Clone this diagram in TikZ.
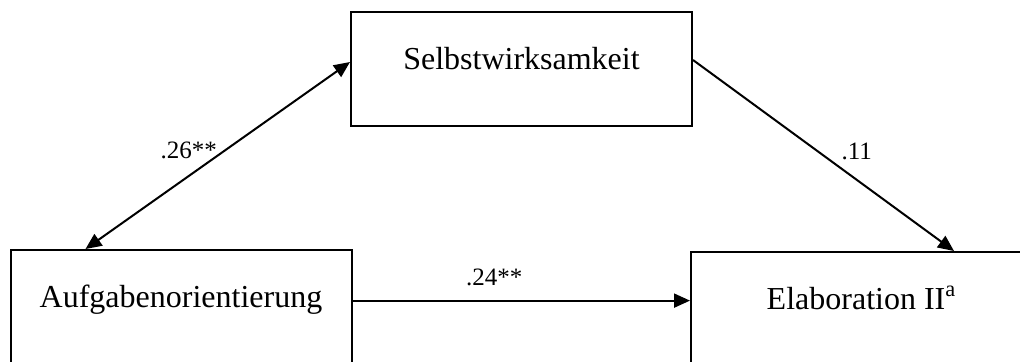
\documentclass[tikz,border=0pt]{standalone}
\usepackage{fontspec}
\setmainfont{Liberation Serif}
\usetikzlibrary{calc,positioning,arrows.meta}
\tikzset{
>={Triangle[length=8pt,width=7pt]},
  konstrukt/.style={
    rectangle,
    draw=black, line width=1pt,
    minimum width=170.5pt,
    minimum height=57pt,
    text height=10pt,
    text depth=10pt,
    inner sep=0pt,
    font=\fontsize{16pt}{19pt}\selectfont},
  pfad/.style={draw, line width=1pt},
  koeff/.style={inner sep=0pt, font=\fontsize{12.5pt}{15pt}\selectfont},
}

\begin{document}
\begin{tikzpicture}[x=0.5pt,y=-0.5pt]
    \useasboundingbox (0,0) rectangle (1020,361);
    \node[konstrukt] (sw) at (521.5,69) {Selbstwirksamkeit};
    \node[konstrukt] (ao) at (181,307) {Aufgabenorientierung};
    \node[konstrukt] (el) at (861.5,309) {Elaboration II\textsuperscript{a}};
%    Pfade
    \draw[pfad,<->] ([yshift=3.5pt]sw.west) -- ([xshift=38pt]ao.north west)
        node[koeff, pos=0.5, anchor=south east, yshift=-2pt] {.26**};
    \draw[pfad,->] ([yshift=4.5pt]sw.east) -- ([xshift=132pt]el.north west)
        node[koeff, pos=0.55, above right, inner sep=2pt] {.11};
    \coordinate (start) at ([yshift=3.2pt]ao.east);
    \draw[pfad,->] (start) -- (start -| el.west)
        node[koeff, pos=0.42, anchor=south, yshift=7pt] {.24**};
\end{tikzpicture}
\end{document}
